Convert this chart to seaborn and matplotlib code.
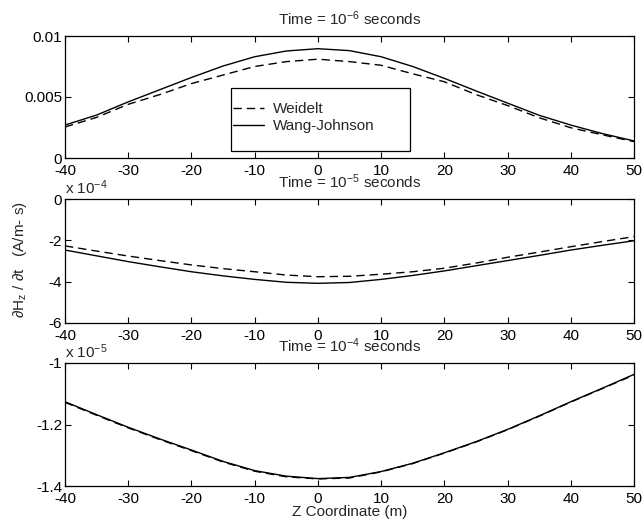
import matplotlib
matplotlib.use("Agg")
import matplotlib.pyplot as plt
from matplotlib.patches import Rectangle
import seaborn as sns

# ---- data ----
z = [-40, -35, -30, -25, -20, -15, -10, -5, 0, 5, 10, 15, 20, 25, 30, 35, 40, 45, 50]

# Time = 1e-6 s (A/m-s)
weidelt_t6 = [0.00254, 0.00333, 0.0044, 0.0052, 0.0061, 0.0068, 0.0075, 0.0079, 0.0081,
              0.0079, 0.0076, 0.0069, 0.00625, 0.0052, 0.0043, 0.0033, 0.00248, 0.0019, 0.00134]
wang_t6 = [0.0027, 0.00352, 0.0046, 0.0056, 0.0066, 0.00754, 0.0083, 0.00877, 0.00896,
           0.0088, 0.0083, 0.0075, 0.00653, 0.0055, 0.0045, 0.0035, 0.0027, 0.0020, 0.0014]

# Time = 1e-5 s (units of 1e-4 A/m-s)
weidelt_t5 = [-2.27, -2.52, -2.76, -2.98, -3.19, -3.37, -3.52, -3.68, -3.76, -3.74,
              -3.64, -3.52, -3.35, -3.10, -2.82, -2.57, -2.31, -2.06, -1.82]
wang_t5 = [-2.47, -2.75, -3.03, -3.28, -3.52, -3.72, -3.89, -4.03, -4.08, -4.04,
           -3.89, -3.70, -3.48, -3.23, -2.98, -2.73, -2.47, -2.24, -2.02]

# Time = 1e-4 s (units of 1e-5 A/m-s)
weidelt_t4 = [-1.128, -1.170, -1.211, -1.249, -1.285, -1.322, -1.352, -1.370, -1.377, -1.374,
              -1.354, -1.327, -1.293, -1.257, -1.217, -1.173, -1.127, -1.083, -1.039]
wang_t4 = [-1.126, -1.168, -1.209, -1.247, -1.283, -1.320, -1.350, -1.368, -1.376, -1.372,
           -1.353, -1.326, -1.292, -1.256, -1.216, -1.172, -1.126, -1.082, -1.037]

titles = ["Time = 10$^{-6}$ seconds", "Time = 10$^{-5}$ seconds", "Time = 10$^{-4}$ seconds"]
offsets = [None, "x 10$^{-4}$", "x 10$^{-5}$"]
yticks = [[0, 0.005, 0.01], [-6, -4, -2, 0], [-1.4, -1.2, -1.0]]
yticklabels = [["0", "0.005", "0.01"], ["-6", "-4", "-2", "0"], ["-1.4", "-1.2", "-1"]]
ylims = [(0, 0.01), (-6, 0), (-1.4, -1.0)]
xticks = [-40, -30, -20, -10, 0, 10, 20, 30, 40, 50]

# ---- style ----
sns.set_style("ticks")
plt.rcParams["font.family"] = ["Liberation Sans", "DejaVu Sans"]
plt.rcParams["mathtext.fontset"] = "custom"
plt.rcParams["mathtext.rm"] = "Liberation Sans"
plt.rcParams["mathtext.default"] = "regular"
plt.rcParams["font.size"] = 11
plt.rcParams["xtick.direction"] = "in"
plt.rcParams["ytick.direction"] = "in"

fig = plt.figure(figsize=(6.43, 5.24), dpi=100)
W, H = 643.0, 524.0
boxes = [(65, 36, 634, 158), (65, 199, 634, 323), (65, 363, 634, 486)]
series = [(weidelt_t6, wang_t6), (weidelt_t5, wang_t5), (weidelt_t4, wang_t4)]
dash = (0, (6, 3.6))

for i, (l, t, r, b) in enumerate(boxes):
    ax = fig.add_axes([l / W, 1 - b / H, (r - l) / W, (b - t) / H])
    wd, wj = series[i]
    sns.lineplot(x=z, y=wd, ax=ax, color="k", lw=1.0, linestyle=dash,
                 label="Weidelt" if i == 0 else None)
    sns.lineplot(x=z, y=wj, ax=ax, color="k", lw=1.0, linestyle="-",
                 label="Wang-Johnson" if i == 0 else None)
    ax.set_xlim(-40, 50)
    ax.set_ylim(*ylims[i])
    ax.set_xticks(xticks)
    ax.set_xticklabels([str(v) for v in xticks])
    ax.set_yticks(yticks[i])
    ax.set_yticklabels(yticklabels[i])
    ax.tick_params(axis="both", which="both", direction="in", top=True, right=True,
                   length=4, width=0.8, color="k", labelsize=11, labelcolor="k")
    ax.tick_params(axis="x", pad=4)
    ax.tick_params(axis="y", pad=2)
    for s in ax.spines.values():
        s.set_color("k")
        s.set_linewidth(0.9)
    ax.set_xlabel("")
    ax.set_ylabel("")
    ax.set_title(titles[i], pad=8, fontsize=11)
    if offsets[i]:
        ax.text(0.0, 1 + 5 / (b - t), offsets[i], transform=ax.transAxes,
                ha="left", va="baseline", fontsize=11)
    if i == 0:
        fx = lambda px: (px - l) / (r - l)
        fy = lambda py: (b - py) / (b - t)
        ax.add_patch(Rectangle((fx(231), fy(151)), fx(410) - fx(231), fy(88) - fy(151),
                               transform=ax.transAxes, facecolor="white", edgecolor="k",
                               lw=0.9, zorder=4))
        leg = ax.legend(loc="center left", bbox_to_anchor=(fx(233), fy(117.5)),
                        frameon=False, fontsize=11, handlelength=2.0, handletextpad=0.6,
                        borderpad=0, labelspacing=0.2, borderaxespad=0)
        leg.set_zorder(5)
    else:
        if ax.get_legend():
            ax.get_legend().remove()

fig.text(20 / W, 1 - 260 / H, "∂H$_z$ / ∂t   (A/m- s)", rotation=90,
         ha="center", va="center", fontsize=11)
fig.text(350 / W, 1 - 512 / H, "Z Coordinate (m)", ha="center", va="center", fontsize=11)

fig.savefig("out.png", dpi=100, facecolor="white")
